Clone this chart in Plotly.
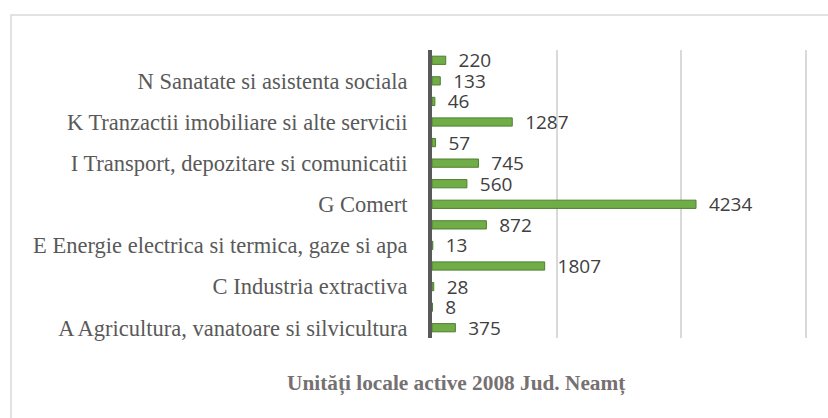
import plotly.graph_objects as go

# categorii CAEN (de jos in sus), doar cele impare au eticheta vizibila
categorii = [
    'A Agricultura, vanatoare si silvicultura',
    'B Pescuit si piscicultura',
    'C Industria extractiva',
    'D Industria prelucratoare',
    'E Energie electrica si termica, gaze si apa',
    'F Constructii',
    'G Comert',
    'H Hoteluri si restaurante',
    'I Transport, depozitare si comunicatii',
    'J Intermedieri financiare',
    'K Tranzactii imobiliare si alte servicii',
    'M Invatamant',
    'N Sanatate si asistenta sociala',
    'O Alte activitati de servicii colective, sociale si personale',
]
unitati = [375, 8, 28, 1807, 13, 872, 4234, 560, 745, 57, 1287, 46, 133, 220]
etichete_vizibile = categorii[::2]

L, R, T, B = 432, 20, 50, 80
pw, ph = 828 - L - R, 418 - T - B

bar = go.Bar(
    y=categorii, x=unitati, orientation='h',
    width=0.4,
    marker=dict(color='#70ad47', line=dict(color='#4e7f31', width=1)),
    texttemplate='  %{x}', textposition='outside',
    constraintext='none',
    textfont=dict(family='Open Sans', size=19, color='#404040'),
    cliponaxis=False,
)

fig = go.Figure(bar)

fig.update_layout(
    width=828, height=418,
    margin=dict(l=L, r=R, t=T, b=B, autoexpand=False),
    paper_bgcolor='white', plot_bgcolor='white',
    showlegend=False,
    xaxis=dict(range=[0, 6030], tickvals=[0, 2000, 4000, 6000], showticklabels=False,
               showgrid=True, gridcolor='#d9d9d9', gridwidth=1.5, zeroline=False),
    yaxis=dict(type='category', categoryorder='array', categoryarray=categorii,
               tickmode='array', tickvals=etichete_vizibile, ticktext=etichete_vizibile,
               tickfont=dict(family='Liberation Serif', size=22.5, color='#595959'),
               showline=True, linecolor='#595959', linewidth=4, showgrid=False,
               ticks='', ticklabelstandoff=16, automargin=False),
    shapes=[dict(type='rect', xref='paper', yref='paper',
                 x0=(11 - L) / pw, x1=1.5, y0=-0.5, y1=1 + (T - 15) / ph,
                 line=dict(color='#d9d9d9', width=1.5), layer='below')],
    annotations=[dict(text='<b>Unități locale active 2008 Jud. Neamț</b>',
                      xref='paper', yref='paper', x=(456 - L) / pw, y=-(383 - T - ph) / ph,
                      yanchor='middle', xanchor='center', showarrow=False,
                      font=dict(family='Liberation Serif', size=21.3, color='#767171'))],
)

# fara marginea implicita a paginii
fig.write_html("out.html", config={'displayModeBar': False},
               post_script="document.body.style.margin='0px';")
